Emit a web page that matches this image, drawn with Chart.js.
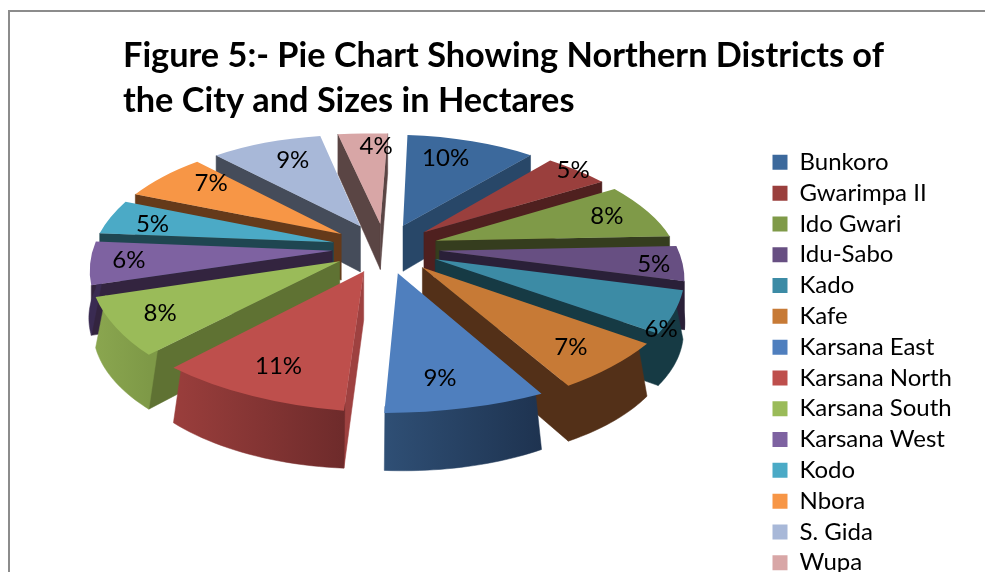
<!DOCTYPE html>
<html>
<head>
<meta charset="utf-8">
<style>
  html, body { margin: 0; padding: 0; background: #fff; overflow: hidden; height: 572px; }
  #frame { position: absolute; left: 8px; top: 10px; width: 990px; height: 640px; border: 2px solid #8c8c8c; }
  #wrap { position: absolute; left: 0; top: 0; width: 985px; height: 660px; }
</style>
</head>
<body>
<div id="frame"></div>
<div id="wrap"><canvas id="myChart"></canvas></div>
<script src="https://cdn.jsdelivr.net/npm/chart.js@4"></script>
<script>
var districts = ['Bunkoro', 'Gwarimpa II', 'Ido Gwari', 'Idu-Sabo', 'Kado', 'Kafe', 'Karsana East',
  'Karsana North', 'Karsana South', 'Karsana West', 'Kodo', 'Nbora', 'S. Gida', 'Wupa'];
var shares = [10, 5, 8, 5, 6, 7, 9, 11, 8, 6, 5, 7, 9, 4];
var titleLines = ['Figure 5:- Pie Chart Showing Northern Districts of', 'the City and Sizes in Hectares'];

var topColors = ['#3c699c', '#9a3f3d', '#7f9a48', '#674f82', '#3c8ba5', '#c77a36', '#4f7fbe',
  '#be4f4c', '#9abb59', '#7e62a1', '#4baac6', '#f79646', '#a8b8d8', '#d8a6a6'];
var cutColors = ['#284768', '#4f201f', '#353d1e', '#2a2038', '#163a44', '#533018', '#2a4566',
  '#9e4140', '#5f7233', '#33243f', '#1f4651', '#653a1a', '#454c5a', '#5a4544'];
var rimLeft = ['#284768', '#4f201f', '#353d1e', '#2a2038', '#163a44', '#533018', '#2f4f75',
  '#9a3e3c', '#8aa64f', '#3a2b52', '#1f4651', '#653a1a', '#454c5a', '#5a4544'];
var rimRight = ['#284768', '#4f201f', '#353d1e', '#2a2038', '#163a44', '#533018', '#1e3350',
  '#6e2b2b', '#7e9947', '#3a2b52', '#1f4651', '#653a1a', '#454c5a', '#5a4544'];

// look of the tilted pie
var view = { cx: 385, cy: 248, right: 243, left: 235, b: 110.5, persp: 0.15, depth: 47, shearFront: -13, shearBack: -8, tilt: 9 };
var labelRadius = 0.78;
// small nudges so the percent labels sit where the original puts them
var labelNudge = [[-12, 0], [27, -13], [4, -1], [24, 4], [41, 29], [3, 4], [-10, 3],
  [1, 0], [-7, 2], [-15, 0], [-6, 2], [11, -5], [8, 1], [10, -5]];

function project(u, v, z) {
  var w = 1 - view.persp * v;
  var shear = v > 0 ? view.shearFront : view.shearBack;
  var a = u > 0 ? view.right : view.left;
  return {
    x: view.cx + (a * u + shear * v) / w,
    y: view.cy + (view.b * v + view.tilt * u) / w + z * view.depth / w
  };
}

function sliceInfo(arc) {
  var off = arc.options.offset / 4;
  var mid = (arc.startAngle + arc.endAngle) / 2;
  var e = off / arc.outerRadius;
  // the arc element grows its radius and trims its angle when it has an offset
  var grow = off * (1 - Math.sin(Math.min(Math.PI, arc.circumference)));
  var rr = arc.outerRadius + grow;
  var alpha = arc.endAngle - arc.startAngle;
  var trim = (alpha - Math.max(0.001, alpha * rr - grow / Math.PI) / rr) / 2;
  return { off: off, mid: mid, e: e, rr: rr, trim: trim };
}

function unit(info, t, r) {
  return { u: info.e * Math.cos(info.mid) + r * Math.cos(t), v: info.e * Math.sin(info.mid) + r * Math.sin(t) };
}

function pt(info, t, r, z) {
  var p = unit(info, t, r);
  return project(p.u, p.v, z);
}

function polygon(ctx, pts, fill) {
  ctx.beginPath();
  pts.forEach(function(p, i) { if (i) ctx.lineTo(p.x, p.y); else ctx.moveTo(p.x, p.y); });
  ctx.closePath();
  ctx.fillStyle = fill;
  ctx.fill();
  ctx.strokeStyle = fill;
  ctx.lineWidth = 0.5;
  ctx.stroke();
}

function drawCut(ctx, info, t, otherT, color) {
  var apex = pt(info, 0, 0, 0), rim = pt(info, t, 1, 0), other = pt(info, otherT, 1, 0);
  var nx = -(rim.y - apex.y), ny = rim.x - apex.x;
  if (nx * (other.x - apex.x) + ny * (other.y - apex.y) > 0) { ny = -ny; }
  if (ny <= 0) return;
  polygon(ctx, [apex, rim, pt(info, t, 1, 1), pt(info, 0, 0, 1)], color);
}

function drawRim(ctx, info, arc, i) {
  var from = Math.max(arc.startAngle, 0), to = Math.min(arc.endAngle, Math.PI);
  if (to <= from) return;
  var upper = [], lower = [];
  for (var s = 0; s <= 24; s++) {
    var t = from + (to - from) * s / 24;
    upper.push(pt(info, t, 0.96, 0));
    lower.unshift(pt(info, t, 1, 1));
  }
  var xs = lower.map(function(p) { return p.x; });
  var g = ctx.createLinearGradient(Math.min.apply(null, xs), 0, Math.max.apply(null, xs), 0);
  g.addColorStop(0, rimLeft[i]);
  g.addColorStop(1, rimRight[i]);
  polygon(ctx, upper.concat(lower), g);
}

function drawTop(ctx, info, arc) {
  // fit the flat chart slice onto its tilted place
  var ox = arc.x + info.off * Math.cos(info.mid), oy = arc.y + info.off * Math.sin(info.mid);
  var a0 = arc.startAngle + info.trim, a1 = arc.endAngle - info.trim;
  var sx = [ox, ox + info.rr * Math.cos(a0), ox + info.rr * Math.cos(a1)];
  var sy = [oy, oy + info.rr * Math.sin(a0), oy + info.rr * Math.sin(a1)];
  var d = [pt(info, 0, 0, 0), pt(info, arc.startAngle, 1, 0), pt(info, arc.endAngle, 1, 0)];
  var det = (sx[1] - sx[0]) * (sy[2] - sy[0]) - (sx[2] - sx[0]) * (sy[1] - sy[0]);
  var a = ((d[1].x - d[0].x) * (sy[2] - sy[0]) - (d[2].x - d[0].x) * (sy[1] - sy[0])) / det;
  var c = ((d[2].x - d[0].x) * (sx[1] - sx[0]) - (d[1].x - d[0].x) * (sx[2] - sx[0])) / det;
  var b = ((d[1].y - d[0].y) * (sy[2] - sy[0]) - (d[2].y - d[0].y) * (sy[1] - sy[0])) / det;
  var f = ((d[2].y - d[0].y) * (sx[1] - sx[0]) - (d[1].y - d[0].y) * (sx[2] - sx[0])) / det;
  ctx.save();
  ctx.transform(a, b, c, f, d[0].x - a * sx[0] - c * sy[0], d[0].y - b * sx[0] - f * sy[0]);
  arc.draw(ctx);
  ctx.restore();
}

var tiltedPie = {
  id: 'tiltedPie',
  beforeDatasetDraw: function(chart, args) {
    var ctx = chart.ctx;
    var arcs = args.meta.data.map(function(arc, i) { return { arc: arc, i: i, info: sliceInfo(arc) }; });
    arcs.sort(function(p, q) { return Math.sin(p.info.mid) - Math.sin(q.info.mid); });
    arcs.forEach(function(s) {
      drawCut(ctx, s.info, s.arc.startAngle, s.arc.endAngle, cutColors[s.i]);
      drawCut(ctx, s.info, s.arc.endAngle, s.arc.startAngle, cutColors[s.i]);
      drawRim(ctx, s.info, s.arc, s.i);
      drawTop(ctx, s.info, s.arc);
    });
    return false;
  },
  afterDatasetsDraw: function(chart) {
    var ctx = chart.ctx;
    ctx.save();
    ctx.fillStyle = '#000';
    ctx.font = '24px Lato';
    ctx.textAlign = 'center';
    ctx.textBaseline = 'middle';
    chart.getDatasetMeta(0).data.forEach(function(arc, i) {
      var info = sliceInfo(arc);
      var p = pt(info, info.mid, labelRadius, 0);
      ctx.fillText(shares[i] + '%', p.x + labelNudge[i][0], p.y + labelNudge[i][1]);
    });
    ctx.restore();
  }
};

var ctx = document.getElementById('myChart').getContext('2d');
var myChart = new Chart(ctx, {
  type: 'pie',
  data: {
    labels: districts,
    datasets: [
      {
        data: shares,
        backgroundColor: topColors,
        borderWidth: 0,
        offset: 160
      }
    ]
  },
  plugins: [tiltedPie],
  options: {
    responsive: true,
    maintainAspectRatio: false,
    animation: false,
    layout: { padding: { left: 123, top: 33, right: 23 } },
    plugins: {
      tooltip: { enabled: false },
      title: {
        display: true,
        text: titleLines,
        align: 'start',
        color: '#000',
        font: { family: 'Lato', size: 34.3, weight: 'bold', lineHeight: 1.32 },
        padding: { top: 0, bottom: 20 }
      },
      legend: {
        position: 'right',
        align: 'start',
        fullSize: false,
        labels: {
          color: '#000',
          font: { family: 'Lato', size: 24 },
          boxWidth: 15,
          boxHeight: 15,
          padding: 6.8
        }
      }
    }
  }
});
</script>
</body>
</html>
